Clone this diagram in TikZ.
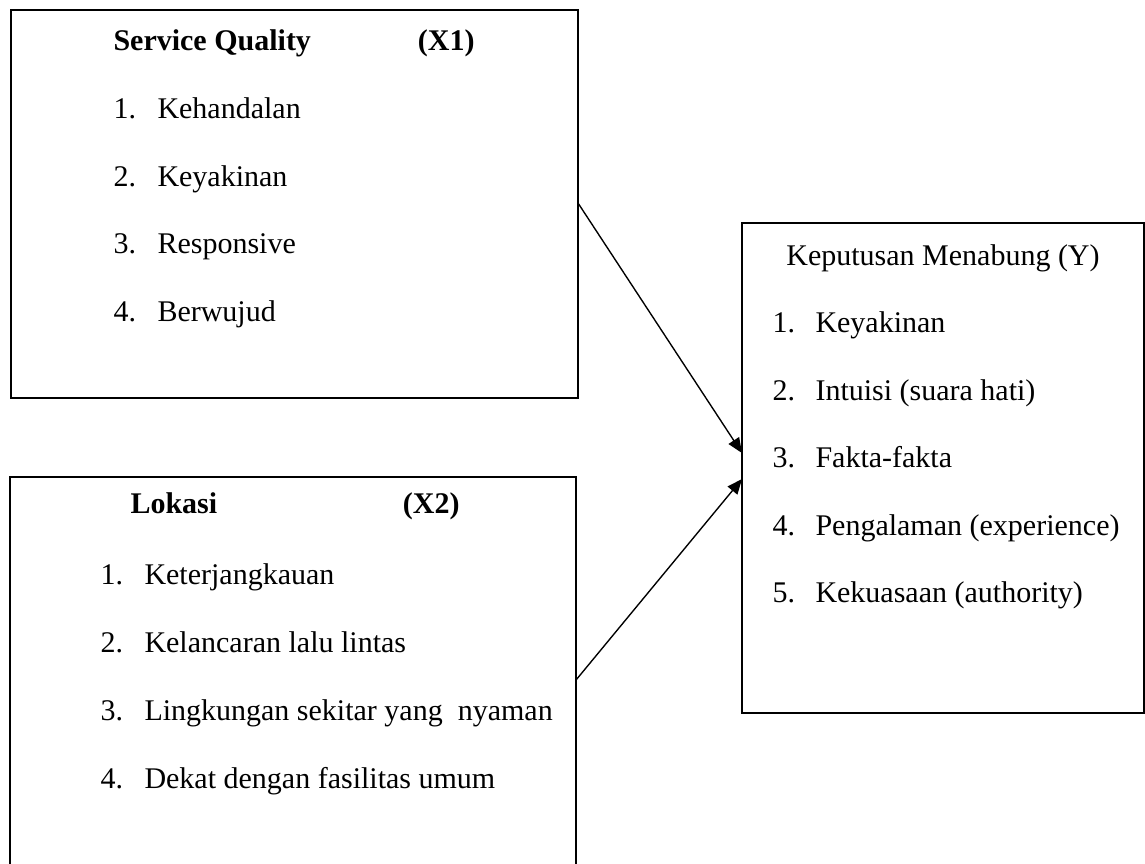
\documentclass[tikz,border=0pt]{standalone}
\usepackage{fontspec}
\setmainfont{Liberation Serif}
\usetikzlibrary{arrows.meta}
\begin{document}
\begin{tikzpicture}[x=0.4pt,y=-0.4pt,
  boxline/.style={draw, line width=0.7pt},
  txt/.style={anchor=base west, inner sep=0pt, font=\fontsize{12}{14}\selectfont},
  hd/.style={anchor=base west, inner sep=0pt, font=\fontsize{12}{14}\selectfont\bfseries},
  arr/.style={line width=0.55pt, -{Triangle[length=6pt,width=5pt]}}]
\useasboundingbox (0,0) rectangle (1145,863);
% boxes
\draw[boxline] (11,10) rectangle (578,398);
\draw[boxline] (10,870) -- (10,477) -- (576,477) -- (576,870);
\draw[boxline] (742,223) rectangle (1144,713);
% X1
\node[hd] (x1h) at (113,50) {Service Quality};
\node[hd, anchor=base east] (x1v) at (475,50) {(X1)};
\node[txt] (x1n1) at (113,118) {1.};
\node[txt] (x1t1) at (157,118) {Kehandalan};
\node[txt] (x1n2) at (113,186) {2.};
\node[txt] (x1t2) at (157,186) {Keyakinan};
\node[txt] (x1n3) at (113,253) {3.};
\node[txt] (x1t3) at (157,253) {Responsive};
\node[txt] (x1n4) at (113,321) {4.};
\node[txt] (x1t4) at (157,321) {Berwujud};
% X2
\node[hd] (x2h) at (130,513) {Lokasi};
\node[hd, anchor=base east] (x2v) at (460,513) {(X2)};
\node[txt] (x2n1) at (100,584) {1.};
\node[txt] (x2t1) at (144,584) {Keterjangkauan};
\node[txt] (x2n2) at (100,652) {2.};
\node[txt] (x2t2) at (144,652) {Kelancaran lalu lintas};
\node[txt] (x2n3) at (100,720) {3.};
\node[txt] (x2t3) at (144,720) {Lingkungan sekitar yang\ \ nyaman};
\node[txt] (x2n4) at (100,788) {4.};
\node[txt] (x2t4) at (144,788) {Dekat dengan fasilitas umum};
% Y
\node[txt, anchor=base] (yh) at (943,265) {Keputusan Menabung (Y)};
\node[txt] (yn1) at (772,332) {1.};
\node[txt] (yt1) at (815,332) {Keyakinan};
\node[txt] (yn2) at (772,400) {2.};
\node[txt] (yt2) at (815,400) {Intuisi (suara hati)};
\node[txt] (yn3) at (772,467) {3.};
\node[txt] (yt3) at (815,467) {Fakta-fakta};
\node[txt] (yn4) at (772,535) {4.};
\node[txt] (yt4) at (815,535) {Pengalaman (experience)};
\node[txt] (yn5) at (772,602) {5.};
\node[txt] (yt5) at (815,602) {Kekuasaan (authority)};
% arrows
\coordinate (a1s) at (578,203);
\coordinate (a1e) at (742,453);
\coordinate (a2s) at (576,680);
\coordinate (a2e) at (742,479);
\draw[arr] (a1s) -- (a1e);
\draw[arr] (a2s) -- (a2e);
\end{tikzpicture}
\end{document}
